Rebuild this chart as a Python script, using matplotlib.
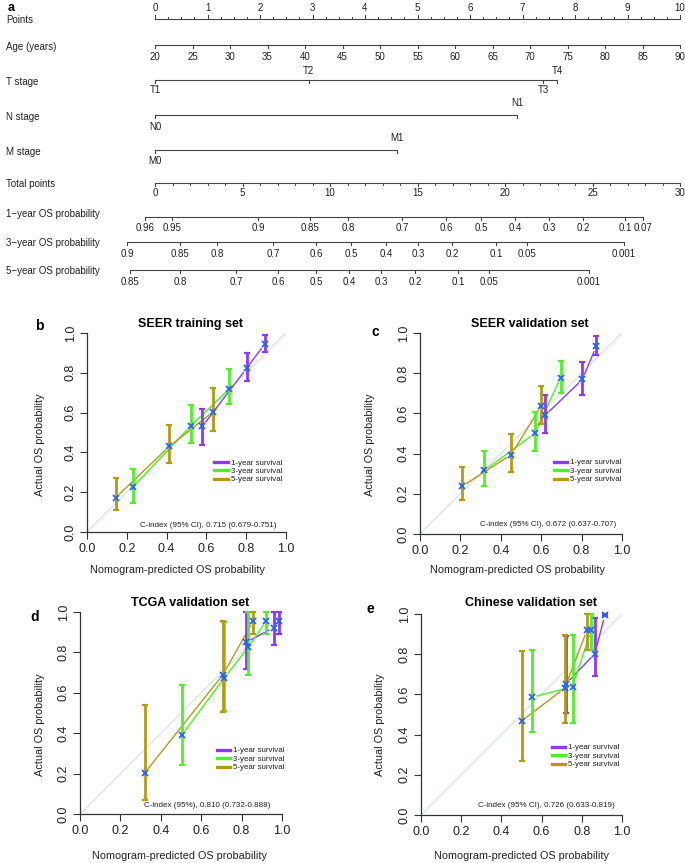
# nomogram + calibration curves (panels a-e)
import numpy as np
import matplotlib
matplotlib.use('Agg')
import matplotlib.pyplot as plt
from matplotlib.lines import Line2D
from matplotlib import transforms

plt.rcParams['font.family'] = ['Liberation Sans', 'DejaVu Sans']

# ---- nomogram data (x in points, total-points rows in total points) ----
points_labels = [0, 1, 2, 3, 4, 5, 6, 7, 8, 9, 10]
age_labels = [20, 25, 30, 35, 40, 45, 50, 55, 60, 65, 70, 75, 80, 85, 90]
t_labels = ['T1', 'T2', 'T3', 'T4']
t_points = [0, 2.93, 7.39, 7.66]
n_labels = ['N0', 'N1']
n_points = [0, 6.9]
m_labels = ['M0', 'M1']
m_points = [0, 4.61]
total_labels = [0, 5, 10, 15, 20, 25, 30]

os1_probs = ['0.96', '0.95', '0.9', '0.85', '0.8', '0.7', '0.6', '0.5', '0.4', '0.3', '0.2', '0.1', '0.07']
os1_total = [-0.57, 0.97, 5.89, 8.86, 11.03, 14.11, 16.63, 18.63, 20.57, 22.51, 24.46, 26.86, 27.89]
os3_probs = ['0.9', '0.85', '0.8', '0.7', '0.6', '0.5', '0.4', '0.3', '0.2', '0.1', '0.05', '0.001']
os3_total = [-1.6, 1.43, 3.54, 6.74, 9.2, 11.2, 13.2, 15.03, 16.97, 19.49, 21.26, 26.8]
os5_probs = ['0.85', '0.8', '0.7', '0.6', '0.5', '0.4', '0.3', '0.2', '0.1', '0.05', '0.001']
os5_total = [-1.43, 1.43, 4.63, 7.03, 9.2, 11.09, 12.91, 14.86, 17.31, 19.09, 24.8]

# ---- calibration data: predicted, observed, lower, upper ----
b1_x, b1_y = [0.58, 0.802, 0.893], [0.531, 0.823, 0.944]
b1_lo, b1_hi = [0.438, 0.759, 0.906], [0.619, 0.897, 0.99]
b3_x, b3_y = [0.231, 0.521, 0.716], [0.226, 0.533, 0.72]
b3_lo, b3_hi = [0.147, 0.447, 0.641], [0.315, 0.636, 0.818]
b5_x, b5_y = [0.144, 0.413, 0.634], [0.172, 0.43, 0.604]
b5_lo, b5_hi = [0.11, 0.346, 0.506], [0.27, 0.536, 0.722]

c1_x, c1_y = [0.619, 0.804, 0.872], [0.59, 0.769, 0.933]
c1_lo, c1_hi = [0.502, 0.69, 0.89], [0.694, 0.856, 0.987]
c3_x, c3_y = [0.319, 0.567, 0.696], [0.316, 0.5, 0.778]
c3_lo, c3_hi = [0.237, 0.411, 0.702], [0.415, 0.605, 0.863]
c5_x, c5_y = [0.208, 0.452, 0.601], [0.237, 0.395, 0.639]
c5_lo, c5_hi = [0.171, 0.309, 0.548], [0.334, 0.498, 0.736]

d1_x, d1_y = [0.822, 0.96, 0.983], [0.85, 0.923, 0.957]
d1_lo, d1_hi = [0.72, 0.835, 0.89], [1.0, 1.0, 1.0]
d3_x, d3_y = [0.505, 0.715, 0.833, 0.922], [0.392, 0.675, 0.825, 0.957]
d3_lo, d3_hi = [0.243, 0.51, 0.69, 0.89], [0.637, 0.95, 1.0, 1.0]
d5_x, d5_y = [0.32, 0.708, 0.858], [0.203, 0.69, 0.957]
d5_lo, d5_hi = [0.07, 0.503, 0.89], [0.54, 0.957, 1.0]

e1_x, e1_y = [0.721, 0.865, 0.915], [0.652, 0.803, 0.995]
e1_lo, e1_hi = [0.505, 0.694, 0.99], [0.89, 0.978, 1.0]
e3_x, e3_y = [0.55, 0.754, 0.846], [0.585, 0.638, 0.919]
e3_lo, e3_hi = [0.413, 0.46, 0.82], [0.82, 0.894, 1.0]
e5_x, e5_y = [0.5, 0.714, 0.826], [0.468, 0.63, 0.919]
e5_lo, e5_hi = [0.267, 0.46, 0.82], [0.814, 0.894, 1.0]

c_index = ['C-index (95% CI), 0.715 (0.679-0.751)',
           'C-index (95% CI), 0.672 (0.637-0.707)',
           'C-index (95%), 0.810 (0.732-0.888)',
           'C-index (95% CI), 0.726 (0.633-0.819)']
titles = ['SEER training set', 'SEER validation set', 'TCGA validation set', 'Chinese validation set']
series_names = ['1-year survival', '3-year survival', '5-year survival']
col = ['#8C3CF0', '#50F028', '#B49B14']
x_col = '#2864F0'
txt = '#222222'

W, H = 685, 863
fig = plt.figure(figsize=(W / 100, H / 100), dpi=100)

# ---------------- panel a : nomogram ----------------
# x in points (0 at px 155, 10 at px 680), y in pixel rows
ax = fig.add_axes([0, 0, 1, 1])
ax.set_xlim(-155 / 52.5, (W - 155) / 52.5)
ax.set_ylim(H, 0)
ax.axis('off')
lc = '#444444'
namex = transforms.blended_transform_factory(fig.transFigure, ax.transData)


def row_name(y, s):
    ax.text(6 / W, y, s, transform=namex, fontsize=7, color=txt, va='center', ha='left')


def scale(y, xs, labels, down=True, lab_y=None, minor=None):
    sgn = 1 if down else -1
    ax.plot([min(xs), max(xs)], [y, y], color=lc, lw=0.8, solid_capstyle='butt')
    for xv in xs:
        ax.plot([xv, xv], [y, y + 3.5 * sgn], color=lc, lw=0.8)
    if minor is not None:
        for xv in minor:
            ax.plot([xv, xv], [y, y + 2.2 * sgn], color=lc, lw=0.7)
    for xv, lab, ly in zip(xs, labels, lab_y):
        ax.text(xv, ly, str(lab), ha='center', va='center', fontsize=7, color=txt)


ax.text(8 / 52.5 - 155 / 52.5, 8, 'a', fontsize=9, fontweight='bold', ha='left', va='center')

row_name(20, 'Points')
pmin = [v + q for v in points_labels[:-1] for q in (0.25, 0.5, 0.75)]
scale(19, points_labels, points_labels, down=False, lab_y=[8] * 11, minor=pmin)

row_name(47, 'Age (years)')
age_pts = [(a - 20) / 7.0 for a in age_labels]
scale(45, age_pts, age_labels, lab_y=[57] * len(age_labels))

row_name(82, 'T stage')
scale(80, t_points, t_labels, lab_y=[90, 71, 90, 71])

row_name(117, 'N stage')
scale(115, n_points, n_labels, lab_y=[127, 103])

row_name(152, 'M stage')
scale(150, m_points, m_labels, lab_y=[161, 138])

row_name(184, 'Total points')
tminor = [v / 3.0 for v in range(31) if v % 5]
scale(183, [v / 3.0 for v in total_labels], total_labels, lab_y=[193] * 7, minor=tminor)

row_name(214, '1\u2212year OS probability')
scale(217, [v / 3.0 for v in os1_total], os1_probs, lab_y=[228] * len(os1_probs))
row_name(243, '3\u2212year OS probability')
scale(242, [v / 3.0 for v in os3_total], os3_probs, lab_y=[254] * len(os3_probs))
row_name(271, '5\u2212year OS probability')
scale(270, [v / 3.0 for v in os5_total], os5_probs, lab_y=[282] * len(os5_probs))

# ---------------- panels b-e : calibration ----------------
panels = [
    dict(rect=[87, 333, 286, 532], letter='b', lxy=(39, 326), title_xy=(190, 324), yl=(40, 445), xl=(178, 570),
         leg=(0.64, 0.367), ci=(0.952, 0.035),
         series=[(b1_x, b1_y, b1_lo, b1_hi), (b3_x, b3_y, b3_lo, b3_hi), (b5_x, b5_y, b5_lo, b5_hi)]),
    dict(rect=[420, 333, 622, 534], letter='c', lxy=(375, 332), title_xy=(530, 324), yl=(370, 445), xl=(518, 570),
         leg=(0.663, 0.374), ci=(0.971, 0.045),
         series=[(c1_x, c1_y, c1_lo, c1_hi), (c3_x, c3_y, c3_lo, c3_hi), (c5_x, c5_y, c5_lo, c5_hi)]),
    dict(rect=[80, 612, 282, 814], letter='d', lxy=(35, 617), title_xy=(190, 603), yl=(40, 725), xl=(180, 856),
         leg=(0.677, 0.332), ci=(0.943, 0.04),
         series=[(d1_x, d1_y, d1_lo, d1_hi), (d3_x, d3_y, d3_lo, d3_hi), (d5_x, d5_y, d5_lo, d5_hi)]),
    dict(rect=[421, 614, 622, 815], letter='e', lxy=(370, 609), title_xy=(531, 603), yl=(380, 725), xl=(522, 856),
         leg=(0.65, 0.354), ci=(0.964, 0.047),
         series=[(e1_x, e1_y, e1_lo, e1_hi), (e3_x, e3_y, e3_lo, e3_hi), (e5_x, e5_y, e5_lo, e5_hi)]),
]


def gapped(axp, xs, ys, c, gap=0.028):
    # R type="b": segments stop short of the points
    xs, ys = np.asarray(xs), np.asarray(ys)
    for i in range(len(xs) - 1):
        p0 = np.array([xs[i], ys[i]])
        p1 = np.array([xs[i + 1], ys[i + 1]])
        d = p1 - p0
        L = np.hypot(*d)
        if L <= 2 * gap:
            continue
        u = d / L
        a, b = p0 + u * gap, p1 - u * gap
        axp.plot([a[0], b[0]], [a[1], b[1]], color=c, lw=1.0, zorder=2)


for i, p in enumerate(panels):
    l, t, r, btm = p['rect']
    axp = fig.add_axes([l / W, 1 - btm / H, (r - l) / W, (btm - t) / H])
    axp.set_xlim(0, 1)
    axp.set_ylim(0, 1)
    axp.axline((0, 0), slope=1, color='#D3E0E8', lw=0.8, zorder=1)
    for k, (xs, ys, lo, hi) in enumerate(p['series']):
        gapped(axp, xs, ys, col[k])
        ys_a = np.asarray(ys)
        yerr = [ys_a - np.asarray(lo), np.asarray(hi) - ys_a]
        axp.errorbar(xs, ys, yerr=yerr, fmt='none', ecolor=col[k], elinewidth=2.0,
                     capsize=2.2, capthick=1.6, zorder=3, clip_on=False)
        axp.plot(xs, ys, 'x', color=x_col, ms=4.8, mew=1.3, zorder=4, clip_on=False)

    for s in ['top', 'right']:
        axp.spines[s].set_visible(False)
    for s in ['left', 'bottom']:
        axp.spines[s].set_color('#333333')
        axp.spines[s].set_linewidth(0.9)
    ticks = [0.0, 0.2, 0.4, 0.6, 0.8, 1.0]
    axp.set_xticks(ticks)
    axp.set_yticks(ticks)
    axp.set_xticklabels(['%.1f' % v for v in ticks])
    axp.set_yticklabels(['%.1f' % v for v in ticks], rotation=90, va='center')
    axp.tick_params(labelsize=9, length=5, width=0.8, color='#333333', labelcolor=txt)
    axp.tick_params(axis='x', pad=3)
    axp.tick_params(axis='y', pad=2.5)

    handles = [Line2D([], [], color=col[k], lw=2.4) for k in range(3)]
    axp.legend(handles, series_names, loc='upper left', bbox_to_anchor=p['leg'], frameon=False,
               fontsize=5.7, handlelength=1.7, handletextpad=0.35, labelspacing=0.12,
               borderpad=0, borderaxespad=0, labelcolor=txt)
    axp.text(p['ci'][0], p['ci'][1], c_index[i], transform=axp.transAxes, ha='right', va='center',
             fontsize=5.8, color=txt)

    fig.text(p['title_xy'][0] / W, 1 - p['title_xy'][1] / H, titles[i], ha='center', va='center',
             fontsize=9, fontweight='bold')
    fig.text(p['lxy'][0] / W, 1 - p['lxy'][1] / H, p['letter'], ha='center', va='center',
             fontsize=10, fontweight='bold')
    fig.text(p['yl'][0] / W, 1 - p['yl'][1] / H, 'Actual OS probability', rotation=90,
             ha='center', va='center', fontsize=7.8, color=txt)
    fig.text(p['xl'][0] / W, 1 - p['xl'][1] / H, 'Nomogram-predicted OS probability',
             ha='center', va='center', fontsize=7.8, color=txt)

fig.savefig('out.png', dpi=100, facecolor='white')
